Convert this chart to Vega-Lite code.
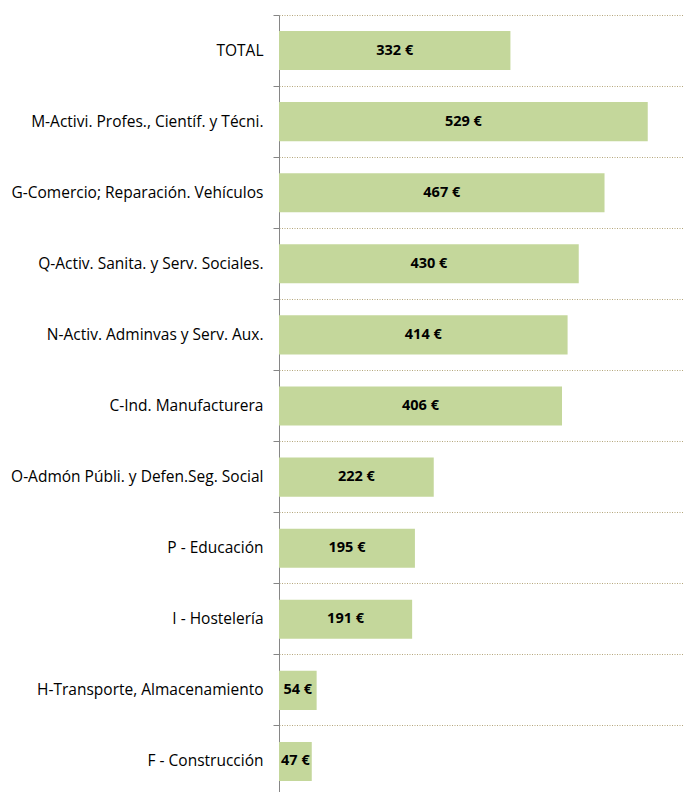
{
  "$schema": "https://vega.github.io/schema/vega-lite/v6.json",
  "autosize": "none",
  "width": 405,
  "height": 782,
  "padding": {"left": 279, "top": 15, "right": 0, "bottom": 0},
  "background": "white",
  "config": {"view": {"stroke": null}, "font": "Open Sans"},
  "data": {
    "values": [
      {"sector": "TOTAL", "value": 332, "label": "332 €"},
      {"sector": "M-Activi. Profes., Científ. y Técni.", "value": 529, "label": "529 €"},
      {"sector": "G-Comercio; Reparación. Vehículos", "value": 467, "label": "467 €"},
      {"sector": "Q-Activ. Sanita. y Serv. Sociales.", "value": 430, "label": "430 €"},
      {"sector": "N-Activ. Adminvas y Serv. Aux.", "value": 414, "label": "414 €"},
      {"sector": "C-Ind. Manufacturera", "value": 406, "label": "406 €"},
      {"sector": "O-Admón Públi. y Defen.Seg. Social", "value": 222, "label": "222 €"},
      {"sector": "P - Educación", "value": 195, "label": "195 €"},
      {"sector": "I - Hostelería", "value": 191, "label": "191 €"},
      {"sector": "H-Transporte, Almacenamiento", "value": 54, "label": "54 €"},
      {"sector": "F - Construcción", "value": 47, "label": "47 €"}
    ]
  },
  "encoding": {
    "y": {
      "field": "sector",
      "type": "nominal",
      "sort": null,
      "scale": {"paddingInner": 0, "paddingOuter": 0},
      "axis": {
        "title": null,
        "bandPosition": 0,
        "grid": true,
        "gridColor": "#B5A77C",
        "gridDash": [1, 1.5],
        "gridWidth": 1,
        "domainColor": "#868686",
        "tickColor": "#868686",
        "tickSize": 6,
        "labelPadding": 10,
        "labelFont": "Open Sans",
        "labelFontSize": 15.5,
        "labelColor": "#000000",
        "labelLimit": 400
      }
    }
  },
  "layer": [
    {
      "mark": {"type": "bar", "color": "#C4D79B", "height": {"band": 0.55}},
      "encoding": {
        "x": {"field": "value", "type": "quantitative", "scale": {"domain": [0, 581]}, "axis": null}
      }
    },
    {
      "transform": [{"calculate": "datum.value / 2", "as": "mid"}],
      "mark": {"type": "text", "font": "Open Sans", "fontWeight": "bold", "fontSize": 14.5, "color": "#000000", "align": "center", "baseline": "middle"},
      "encoding": {
        "x": {"field": "mid", "type": "quantitative", "scale": {"domain": [0, 581]}},
        "text": {"field": "label"}
      }
    }
  ]
}
